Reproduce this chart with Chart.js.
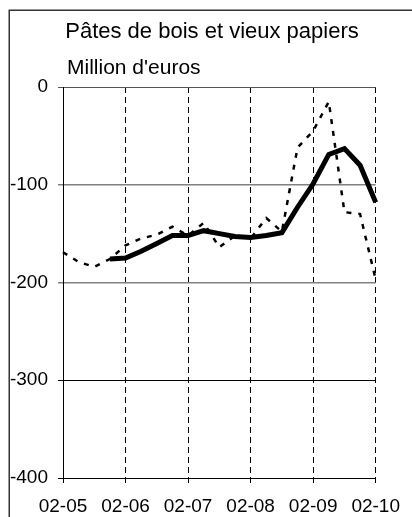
<!DOCTYPE html>
<html>
<head>
<meta charset="utf-8">
<script src="https://cdn.jsdelivr.net/npm/chart.js@4"></script>
<style>
  html, body { margin: 0; padding: 0; background: #fff; }
  #wrap { width: 412px; height: 517px; position: relative; }
</style>
</head>
<body>
<div id="wrap"><canvas id="c" width="412" height="517"></canvas></div>
<script>
// ---- data (quarterly, Feb/May/Aug/Nov) ----
const categories = [
  '02-05','05-05','08-05','11-05',
  '02-06','05-06','08-06','11-06',
  '02-07','05-07','08-07','11-07',
  '02-08','05-08','08-08','11-08',
  '02-09','05-09','08-09','11-09',
  '02-10'
];
const tickLabels = ['02-05','02-06','02-07','02-08','02-09','02-10'];
const quarterly = [
  -169, -179, -184, -176,
  -162, -155, -151, -143,
  -152, -139, -164, -152,
  -155, -134, -148, -62,
  -45, -15, -128, -130,
  -197
];
const movingAvg = [
  null, null, null, -176,
  -175, -168, -160, -152,
  -152, -147, -150, -153,
  -154, -152, -149, -123,
  -99, -69, -63, -80,
  -118
];
const yTicks = [0, -100, -200, -300, -400];
const titleText = 'Pâtes de bois et vieux papiers';
const unitText = "Million d'euros";

const FONT = 'Arial, "Liberation Sans", sans-serif';

const framePlugin = {
  id: 'frame',
  beforeDraw(chart) {
    const ctx = chart.ctx;
    ctx.save();
    ctx.fillStyle = '#fff';
    ctx.fillRect(0, 0, chart.width, chart.height);
    ctx.strokeStyle = '#333';
    ctx.lineWidth = 1.5;
    ctx.strokeRect(9.25, 10.25, 700, 700);
    ctx.restore();
  },
  afterDraw(chart) {
    const ctx = chart.ctx;
    ctx.save();
    ctx.fillStyle = '#000';
    ctx.textBaseline = 'alphabetic';
    ctx.font = '22px ' + FONT;
    ctx.textAlign = 'center';
    ctx.fillText(titleText, 212, 38);
    ctx.font = '21px ' + FONT;
    ctx.textAlign = 'left';
    ctx.fillText(unitText, 67, 74);
    ctx.restore();
  }
};

new Chart(document.getElementById('c'), {
  type: 'line',
  data: {
    labels: categories,
    datasets: [
      {
        label: 'Trimestriel',
        data: quarterly,
        borderColor: '#000',
        borderWidth: 2.5,
        borderDash: [5, 7],
        pointRadius: 0,
        tension: 0,
        fill: false
      },
      {
        label: 'Moyenne mobile',
        data: movingAvg,
        borderColor: '#000',
        borderWidth: 5,
        pointRadius: 0,
        tension: 0,
        fill: false,
        spanGaps: false
      }
    ]
  },
  options: {
    responsive: false,
    animation: false,
    devicePixelRatio: 1,
    layout: { padding: { top: 87, right: 24, left: 0, bottom: 0 } },
    plugins: {
      legend: { display: false },
      title: { display: false },
      tooltip: { enabled: false }
    },
    scales: {
      x: {
        type: 'category',
        offset: false,
        grid: {
          color: c => (c.index % 4 === 0 && c.index !== 0) ? '#000' : 'transparent',
          tickColor: c => (c.index % 4 === 0) ? '#000' : 'transparent',
          lineWidth: 1,
          tickLength: 5
        },
        border: { display: true, color: '#000', width: 1, dash: [6, 4] },
        ticks: {
          autoSkip: false,
          maxRotation: 0,
          padding: 12,
          color: '#000',
          font: { size: 19, family: FONT },
          callback: (v, i) => (i % 4 === 0 ? tickLabels[i / 4] : '')
        },
        afterFit: s => { s.height = 39; }
      },
      y: {
        min: -400,
        max: 0,
        afterBuildTicks: s => { s.ticks = yTicks.map(v => ({ value: v })); },
        grid: {
          color: c => {
            const v = c.tick ? c.tick.value : 0;
            if (v === -100 || v === -200) return '#808080';
            if (v === 0) return '#555';
            return '#000';
          },
          lineWidth: c => {
            const v = c.tick ? c.tick.value : 0;
            return (v === -100 || v === -200) ? 1.5 : 1;
          },
          tickLength: 5
        },
        border: { display: true, color: '#000', width: 1 },
        ticks: {
          padding: 10,
          color: '#000',
          font: { size: 19, family: FONT },
          callback: v => String(v)
        },
        afterFit: s => { s.width = 63; }
      }
    }
  },
  plugins: [framePlugin]
});
</script>
</body>
</html>
